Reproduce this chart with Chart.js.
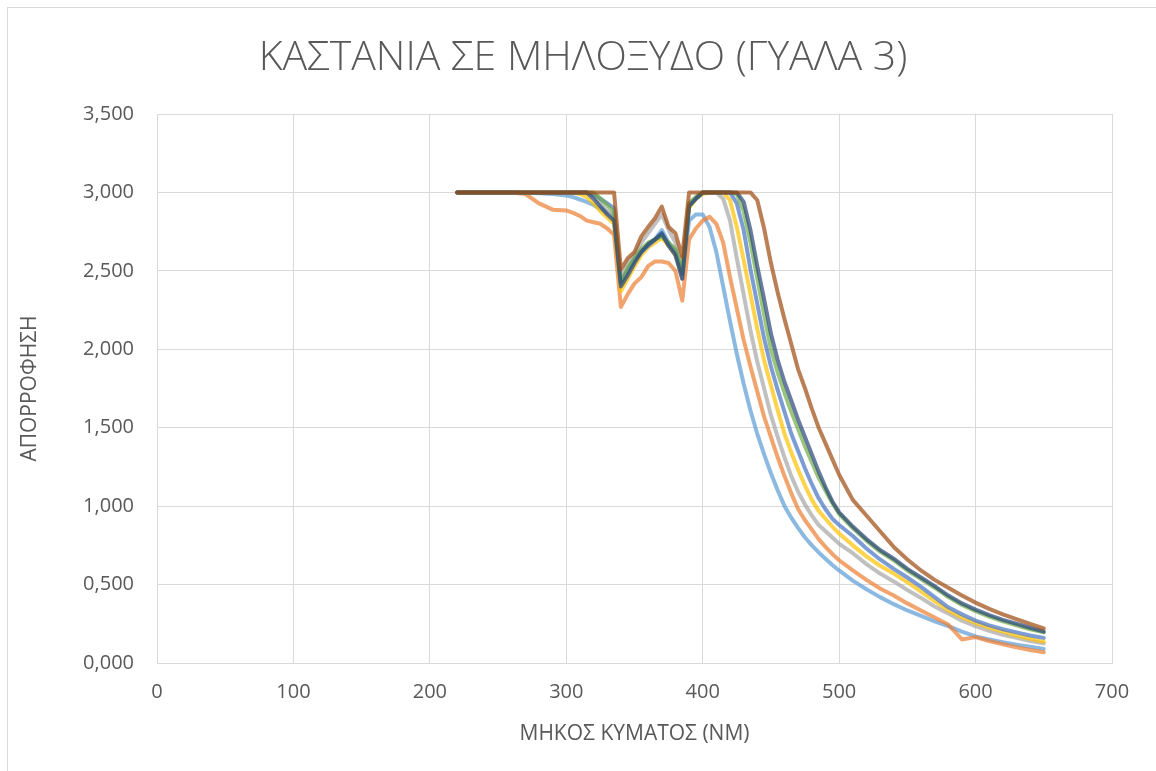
<!DOCTYPE html>
<html>
<head>
<meta charset="utf-8">
<script src="https://cdn.jsdelivr.net/npm/chart.js@4.4.1/dist/chart.umd.min.js"></script>
<style>
  html, body { margin: 0; padding: 0; background: #ffffff; }
  #wrap { position: relative; width: 1156px; height: 771px; overflow: hidden; }
  #frame { position: absolute; left: 7px; top: 7px; right: 0; bottom: 0;
           border-top: 1px solid #d9d9d9; border-left: 1px solid #d9d9d9; pointer-events: none; }
  canvas { display: block; }
</style>
</head>
<body>
<div id="wrap">
  <canvas id="chart" width="1156" height="771"></canvas>
  <div id="frame"></div>
</div>
<script>
// Wavelength grid (nm)
const wavelength = [220,230,240,250,260,270,280,290,300,
  305,310,315,320,325,330,335,
  340,345,350,355,360,365,370,375,380,385,
  390,395,400,405,410,415,420,425,430,435,
  440,445,450,455,460,465,470,475,480,485,490,495,500,
  510,520,530,540,550,560,570,580,590,600,610,620,630,640,650];

// Absorbance of each measurement
const sample1 = [3,3,3,3,3,3,2.995,2.99,2.98,
  2.97,2.955,2.94,2.92,2.895,2.87,2.84,
  2.42,2.50,2.58,2.63,2.66,2.70,2.76,2.68,2.62,2.45,
  2.82,2.86,2.86,2.78,2.62,2.40,2.18,1.97,1.78,1.61,
  1.46,1.33,1.21,1.10,1.00,0.925,0.86,0.80,0.75,0.705,0.665,0.625,0.59,
  0.525,0.47,0.42,0.375,0.335,0.30,0.265,0.235,0.20,0.17,0.15,0.132,0.117,0.103,0.09];
const sample2 = [3,3,3,3,3,2.99,2.93,2.89,2.885,
  2.87,2.85,2.82,2.81,2.80,2.77,2.73,
  2.27,2.35,2.42,2.46,2.53,2.56,2.56,2.55,2.50,2.31,
  2.70,2.77,2.82,2.845,2.80,2.68,2.46,2.26,2.06,1.89,
  1.73,1.57,1.44,1.31,1.19,1.08,0.98,0.91,0.85,0.79,0.74,0.695,0.655,
  0.59,0.53,0.475,0.43,0.38,0.335,0.29,0.245,0.15,0.165,0.14,0.12,0.10,0.083,0.068];
const sample3 = [3,3,3,3,3,3,3,3,3,
  3,3,3,2.98,2.93,2.88,2.84,
  2.45,2.55,2.60,2.68,2.74,2.80,2.86,2.76,2.68,2.52,
  2.93,2.97,3,3,3,2.96,2.82,2.58,2.35,2.12,
  1.92,1.75,1.58,1.44,1.31,1.19,1.09,1.01,0.94,0.88,0.84,0.80,0.76,
  0.70,0.63,0.57,0.52,0.465,0.415,0.36,0.315,0.27,0.235,0.205,0.18,0.16,0.14,0.125];
const sample4 = [3,3,3,3,3,3,3,3,3,
  3,2.99,2.97,2.93,2.88,2.84,2.80,
  2.37,2.45,2.53,2.60,2.65,2.68,2.71,2.66,2.60,2.47,
  2.90,2.96,2.99,3,3,3,2.95,2.78,2.57,2.35,
  2.13,1.93,1.77,1.61,1.46,1.34,1.23,1.13,1.04,0.97,0.92,0.87,0.825,
  0.75,0.68,0.62,0.57,0.515,0.455,0.395,0.335,0.29,0.255,0.225,0.20,0.175,0.155,0.135];
const sample5 = [3,3,3,3,3,3,3,3,3,
  3,3,3,2.99,2.96,2.93,2.90,
  2.43,2.50,2.57,2.62,2.66,2.70,2.73,2.67,2.62,2.48,
  2.92,2.96,3,3,3,3,3,2.93,2.76,2.51,
  2.29,2.07,1.89,1.74,1.60,1.46,1.35,1.24,1.14,1.05,0.98,0.92,0.88,
  0.81,0.73,0.66,0.60,0.545,0.485,0.42,0.355,0.31,0.27,0.24,0.215,0.195,0.175,0.16];
const sample6 = [3,3,3,3,3,3,3,3,3,
  3,3,3,3,2.96,2.92,2.87,
  2.42,2.52,2.58,2.64,2.68,2.70,2.72,2.68,2.64,2.50,
  2.93,2.97,3,3,3,3,3,2.99,2.88,2.68,
  2.45,2.22,2.00,1.85,1.72,1.60,1.49,1.38,1.28,1.18,1.10,1.02,0.95,
  0.86,0.78,0.71,0.655,0.59,0.535,0.48,0.42,0.37,0.33,0.295,0.265,0.24,0.215,0.195];
const sample7 = [3,3,3,3,3,3,3,3,3,
  3,3,3,2.96,2.91,2.86,2.82,
  2.40,2.47,2.55,2.62,2.67,2.70,2.74,2.66,2.60,2.45,
  2.91,2.96,3,3,3,3,3,3,2.94,2.76,
  2.53,2.32,2.10,1.93,1.79,1.67,1.55,1.44,1.33,1.22,1.12,1.03,0.96,
  0.87,0.79,0.72,0.665,0.60,0.545,0.49,0.43,0.38,0.34,0.305,0.275,0.25,0.225,0.20];
const sample8 = [3,3,3,3,3,3,3,3,3,
  3,3,3,3,3,3,3,
  2.51,2.58,2.62,2.72,2.78,2.835,2.91,2.78,2.74,2.59,
  3,3,3,3,3,3,3,3,3,3,
  2.95,2.77,2.55,2.36,2.19,2.03,1.87,1.75,1.62,1.50,1.40,1.30,1.20,
  1.04,0.94,0.84,0.74,0.66,0.59,0.53,0.48,0.43,0.385,0.345,0.31,0.28,0.25,0.22];

const seriesValues = [sample1, sample2, sample3, sample4, sample5, sample6, sample7, sample8];
const seriesColors = [
  'rgba(91,155,213,0.7)', 'rgba(237,125,49,0.7)', 'rgba(165,165,165,0.7)', 'rgba(255,192,0,0.7)',
  'rgba(68,114,196,0.7)', 'rgba(112,173,71,0.7)', 'rgba(38,68,120,0.7)', 'rgba(158,72,14,0.7)'
];

const chartTitle = 'ΚΑΣΤΑΝΙΑ ΣΕ ΜΗΛΟΞΥΔΟ (ΓΥΑΛΑ 3)';
const xTitle = 'ΜΗΚΟΣ ΚΥΜΑΤΟΣ (NM)';
const yTitle = 'ΑΠΟΡΡΟΦΗΣΗ';

const textColor = '#595959';
const gridColor = '#d9d9d9';
const fontFamily = '"Open Sans", "Noto Sans", sans-serif';

const datasets = seriesValues.map((vals, i) => ({
  label: 'Σειρά ' + (i + 1),
  data: vals.map((v, k) => ({ x: wavelength[k], y: v })),
  borderColor: seriesColors[i],
  backgroundColor: seriesColors[i],
  borderWidth: 4,
  pointRadius: 0,
  tension: 0,
  showLine: true,
  fill: false,
  borderCapStyle: 'round',
  borderJoinStyle: 'round',
  order: seriesValues.length - i
}));

// Chart title drawn centred over the whole frame
const titlePlugin = {
  id: 'frameTitle',
  afterDraw(chart) {
    const ctx = chart.ctx;
    ctx.save();
    ctx.font = '300 41px ' + fontFamily;
    ctx.fillStyle = textColor;
    ctx.textAlign = 'center';
    ctx.textBaseline = 'middle';
    ctx.fillText(chartTitle, 583, 58);
    ctx.restore();
  }
};

new Chart(document.getElementById('chart'), {
  type: 'scatter',
  data: { datasets },
  plugins: [titlePlugin],
  options: {
    responsive: false,
    animation: false,
    devicePixelRatio: 1,
    layout: { padding: { left: 0, right: 44, top: 114, bottom: 0 } },
    plugins: {
      legend: { display: false },
      tooltip: { enabled: false },
      title: { display: false }
    },
    scales: {
      x: {
        type: 'linear',
        min: 0, max: 700,
        ticks: { stepSize: 100, color: textColor, padding: 17, font: { family: fontFamily, size: 20 } },
        grid: { color: gridColor, lineWidth: 1, drawTicks: false },
        border: { color: gridColor, width: 1 },
        title: { display: true, text: xTitle, color: textColor, font: { family: fontFamily, size: 21 },
                 padding: { top: 0, bottom: 24 } },
        afterFit(scale) { scale.height = 108; }
      },
      y: {
        type: 'linear',
        min: 0, max: 3.5,
        ticks: {
          stepSize: 0.5, color: textColor, padding: 23, font: { family: fontFamily, size: 20 },
          callback: v => v.toFixed(3).replace('.', ',')
        },
        grid: { color: gridColor, lineWidth: 1, drawTicks: false },
        border: { color: gridColor, width: 1 },
        title: { display: true, text: yTitle, color: textColor, font: { family: fontFamily, size: 21 },
                 padding: { top: 17, bottom: 0 } },
        afterFit(scale) { scale.width = 157; }
      }
    }
  }
});
</script>
</body>
</html>
